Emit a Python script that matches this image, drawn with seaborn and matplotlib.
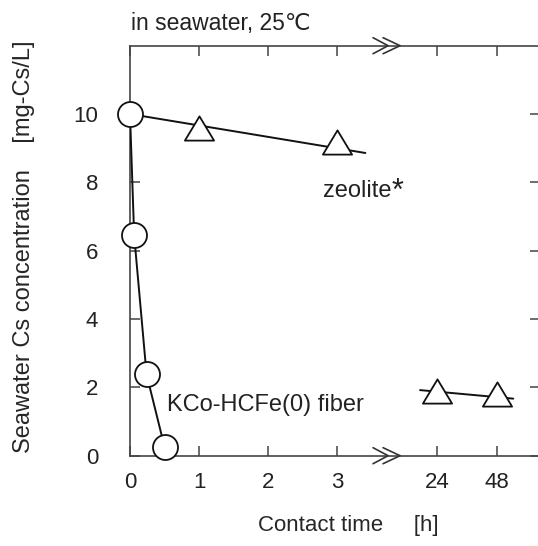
import numpy as np
import pandas as pd
import matplotlib.pyplot as plt
from matplotlib.path import Path
import seaborn as sns

# KCo-HCFe(0) fiber (circles)
fiber_t = [0, 0.06, 0.24, 0.5]
fiber_c = [10.0, 6.45, 2.38, 0.26]

# zeolite (triangles)
zeo_t = [1, 3, 24, 48]
zeo_c = [9.58, 9.19, 1.89, 1.80]

# zeolite guide lines
zeo_fit1_t = [0, 3.41]
zeo_fit1_c = [10.0, 8.86]
zeo_fit2_t = [17.3, 54.6]
zeo_fit2_c = [1.92, 1.67]

x_ticks = [0, 1, 2, 3, 24, 48]
x_ticklabels = ["0", "1", "2", "3", "24", "48"]
y_ticks = [0, 2, 4, 6, 8, 10]

# broken time axis: linear up to the break, compressed after it
BREAK = 3.71
SEG2_START = 4.445   # axis position of 24 h
SEG2_SCALE = 0.869 / 24


def xpos(t):
    t = np.asarray(t, dtype=float)
    return np.where(t <= BREAK, t, SEG2_START + (t - 24) * SEG2_SCALE)


sns.set_theme(style="ticks")
plt.rcParams["font.family"] = ["Liberation Sans", "DejaVu Sans"]
plt.rcParams["text.color"] = "#222222"
plt.rcParams["xtick.color"] = "#444444"
plt.rcParams["ytick.color"] = "#444444"
plt.rcParams["xtick.labelcolor"] = "#222222"
plt.rcParams["ytick.labelcolor"] = "#222222"

fig = plt.figure(figsize=(5.38, 5.46), dpi=100)
ax = fig.add_axes([130 / 538, 90.3 / 546, 410 / 538, 410 / 546])

fiber = pd.DataFrame({"x": xpos(fiber_t), "c": fiber_c})
zeo = pd.DataFrame({"x": xpos(zeo_t), "c": zeo_c})

line_kw = dict(color="#111111", lw=1.4, sort=False, estimator=None, zorder=3)
sns.lineplot(x=xpos(zeo_fit1_t), y=zeo_fit1_c, ax=ax, **line_kw)
sns.lineplot(x=xpos(zeo_fit2_t), y=zeo_fit2_c, ax=ax, **line_kw)
sns.lineplot(data=fiber, x="x", y="c", ax=ax, **line_kw)

tri = Path([(-1, -0.83), (1, -0.83), (0, 0.83), (-1, -0.83)],
           [Path.MOVETO, Path.LINETO, Path.LINETO, Path.CLOSEPOLY])
sns.scatterplot(data=zeo, x="x", y="c", ax=ax, marker=tri, s=21 ** 2,
                facecolor="white", edgecolor="#111111", linewidth=1.3,
                zorder=4, clip_on=False)
sns.scatterplot(data=fiber, x="x", y="c", ax=ax, marker="o", s=18 ** 2,
                facecolor="white", edgecolor="#111111", linewidth=1.3,
                zorder=5, clip_on=False)

ax.set_xlim(0, 5.94)
ax.set_ylim(0, 12)
ax.set_xticks(xpos(x_ticks))
ax.set_xticklabels(x_ticklabels)
ax.set_yticks(y_ticks)
ax.tick_params(axis="both", direction="in", length=7.5, width=1.1,
               labelsize=16, top=True, right=True)
ax.tick_params(axis="x", pad=12)
ax.tick_params(axis="y", pad=23)
for side in ax.spines.values():
    side.set_linewidth(1.2)
    side.set_color("#444444")

# break marks ">>" on top and bottom spines
tr = ax.get_xaxis_transform()
px = 1 / 69.0
hy = 8 / 410
for yb in (0, 1):
    for x0, x1 in ((-13, 2), (-3, 14)):
        ax.plot([BREAK + x0 * px, BREAK + x1 * px, BREAK + x0 * px],
                [yb + hy, yb, yb - hy], color="#333333", lw=1.2,
                transform=tr, clip_on=False, zorder=6)

ax.set_xlabel("Contact time     [h]", fontsize=16)
ax.set_ylabel("Seawater Cs concentration    [mg-Cs/L]", fontsize=17)
ax.xaxis.set_label_coords(0.532, -0.145)
ax.yaxis.set_label_coords(-0.232, 0.509)

fig.text(131 / 538, 1 - 30 / 546, "in seawater, 25\u2103", fontsize=16.5,
         va="baseline")
fig.text(323 / 538, 1 - 197 / 546, "zeolite", fontsize=17, va="baseline")
fig.text(392 / 538, 1 - 200 / 546, "*", fontsize=22, va="baseline")
fig.text(167 / 538, 1 - 411 / 546, "KCo-HCFe(0) fiber", fontsize=17,
         va="baseline")

fig.savefig("out.png", dpi=100)
